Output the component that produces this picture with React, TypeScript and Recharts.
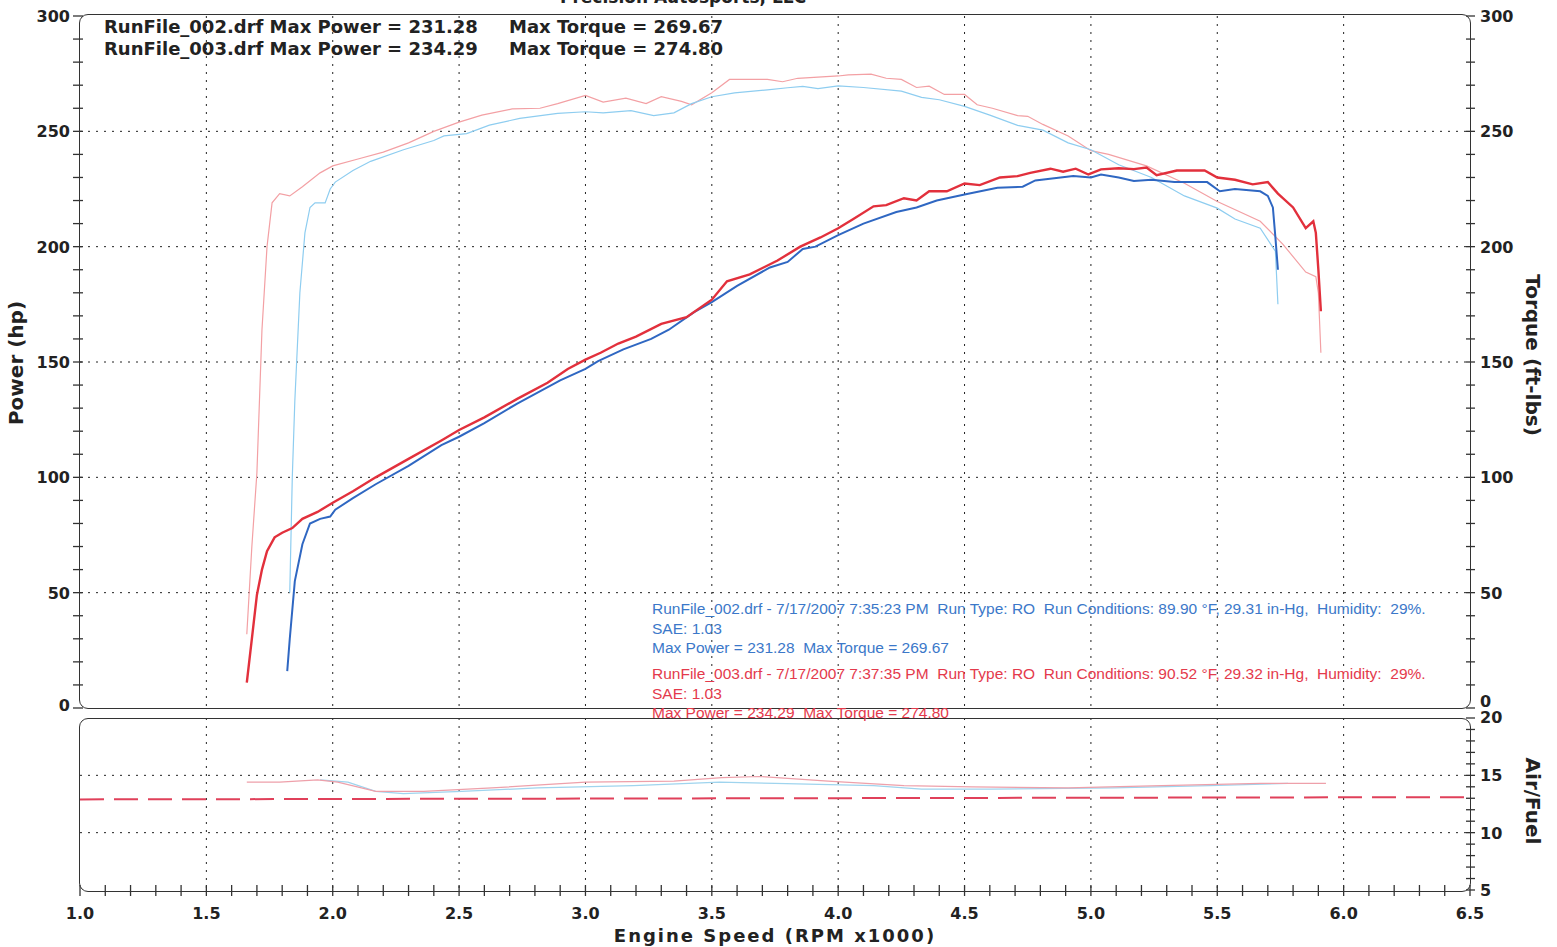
import React from "react"
import { LineChart, Line, XAxis, YAxis, CartesianGrid } from "recharts"

// dyno runs, rpm in x1000
const power002 = [
  { rpm: 1.82, v: 16 }, { rpm: 1.83, v: 30 }, { rpm: 1.85, v: 55 }, { rpm: 1.88, v: 71 },
  { rpm: 1.91, v: 80 }, { rpm: 1.95, v: 82 }, { rpm: 1.99, v: 83 }, { rpm: 2.01, v: 86 },
  { rpm: 2.08, v: 91 }, { rpm: 2.17, v: 97 }, { rpm: 2.3, v: 105 }, { rpm: 2.43, v: 114 },
  { rpm: 2.5, v: 117.6 }, { rpm: 2.6, v: 123.5 }, { rpm: 2.73, v: 132 }, { rpm: 2.9, v: 142 },
  { rpm: 3.0, v: 147 }, { rpm: 3.05, v: 150.4 }, { rpm: 3.15, v: 155.5 }, { rpm: 3.26, v: 160 },
  { rpm: 3.33, v: 164 }, { rpm: 3.43, v: 171.6 }, { rpm: 3.5, v: 176 }, { rpm: 3.6, v: 183 },
  { rpm: 3.73, v: 191 }, { rpm: 3.8, v: 193.4 }, { rpm: 3.86, v: 199 }, { rpm: 3.91, v: 200 },
  { rpm: 4.0, v: 205 }, { rpm: 4.1, v: 210 }, { rpm: 4.23, v: 215 }, { rpm: 4.31, v: 217 },
  { rpm: 4.39, v: 220 }, { rpm: 4.5, v: 222.6 }, { rpm: 4.63, v: 225.5 }, { rpm: 4.73, v: 226 },
  { rpm: 4.78, v: 228.7 }, { rpm: 4.93, v: 230.6 }, { rpm: 5.0, v: 230 }, { rpm: 5.04, v: 231.28 },
  { rpm: 5.11, v: 230 }, { rpm: 5.17, v: 228.5 }, { rpm: 5.24, v: 229 }, { rpm: 5.33, v: 228 },
  { rpm: 5.46, v: 228 }, { rpm: 5.51, v: 224 }, { rpm: 5.57, v: 225 }, { rpm: 5.67, v: 224 },
  { rpm: 5.7, v: 222 }, { rpm: 5.72, v: 217 }, { rpm: 5.73, v: 204 }, { rpm: 5.74, v: 190 },
]

const power003 = [
  { rpm: 1.66, v: 11 }, { rpm: 1.68, v: 30 }, { rpm: 1.7, v: 49 }, { rpm: 1.72, v: 60 },
  { rpm: 1.74, v: 68 }, { rpm: 1.77, v: 74 }, { rpm: 1.8, v: 76 }, { rpm: 1.84, v: 78 },
  { rpm: 1.88, v: 82 }, { rpm: 1.94, v: 85 }, { rpm: 2.0, v: 89 }, { rpm: 2.08, v: 94 },
  { rpm: 2.17, v: 100 }, { rpm: 2.3, v: 108 }, { rpm: 2.43, v: 116 }, { rpm: 2.5, v: 120.5 },
  { rpm: 2.6, v: 126 }, { rpm: 2.73, v: 134 }, { rpm: 2.85, v: 141 }, { rpm: 2.93, v: 147 },
  { rpm: 3.0, v: 151 }, { rpm: 3.06, v: 154 }, { rpm: 3.13, v: 158 }, { rpm: 3.2, v: 161 },
  { rpm: 3.3, v: 166.5 }, { rpm: 3.4, v: 169.4 }, { rpm: 3.5, v: 177 }, { rpm: 3.56, v: 185 },
  { rpm: 3.65, v: 188 }, { rpm: 3.76, v: 194 }, { rpm: 3.85, v: 200 }, { rpm: 3.93, v: 204 },
  { rpm: 4.0, v: 208 }, { rpm: 4.06, v: 212 }, { rpm: 4.14, v: 217.5 }, { rpm: 4.19, v: 218 },
  { rpm: 4.26, v: 221 }, { rpm: 4.31, v: 220 }, { rpm: 4.36, v: 224 }, { rpm: 4.43, v: 224 },
  { rpm: 4.5, v: 227.4 }, { rpm: 4.56, v: 226.7 }, { rpm: 4.64, v: 230 }, { rpm: 4.71, v: 230.6 },
  { rpm: 4.76, v: 232 }, { rpm: 4.84, v: 233.8 }, { rpm: 4.89, v: 232.5 }, { rpm: 4.94, v: 233.8 },
  { rpm: 4.99, v: 231.3 }, { rpm: 5.04, v: 233.5 }, { rpm: 5.11, v: 234 }, { rpm: 5.17, v: 233.6 },
  { rpm: 5.22, v: 234.29 }, { rpm: 5.26, v: 231 }, { rpm: 5.34, v: 233 }, { rpm: 5.45, v: 233 },
  { rpm: 5.5, v: 230 }, { rpm: 5.57, v: 229 }, { rpm: 5.64, v: 227 }, { rpm: 5.7, v: 228 },
  { rpm: 5.74, v: 223 }, { rpm: 5.8, v: 217 }, { rpm: 5.85, v: 208 }, { rpm: 5.88, v: 211 },
  { rpm: 5.89, v: 206 }, { rpm: 5.9, v: 190 }, { rpm: 5.91, v: 172 },
]

const torque002 = [
  { rpm: 1.83, v: 50 }, { rpm: 1.84, v: 100 }, { rpm: 1.85, v: 133 }, { rpm: 1.87, v: 180 },
  { rpm: 1.89, v: 206 }, { rpm: 1.91, v: 217 }, { rpm: 1.93, v: 219 }, { rpm: 1.97, v: 219 },
  { rpm: 1.99, v: 225 }, { rpm: 2.01, v: 228 }, { rpm: 2.08, v: 233 }, { rpm: 2.15, v: 237 },
  { rpm: 2.28, v: 242 }, { rpm: 2.4, v: 246 }, { rpm: 2.44, v: 248 }, { rpm: 2.53, v: 249 },
  { rpm: 2.62, v: 252.7 }, { rpm: 2.74, v: 255.6 }, { rpm: 2.89, v: 257.8 }, { rpm: 3.0, v: 258.5 },
  { rpm: 3.07, v: 258 }, { rpm: 3.18, v: 259 }, { rpm: 3.27, v: 256.8 }, { rpm: 3.35, v: 258 },
  { rpm: 3.42, v: 262 }, { rpm: 3.5, v: 265 }, { rpm: 3.59, v: 266.7 }, { rpm: 3.72, v: 268 },
  { rpm: 3.8, v: 268.9 }, { rpm: 3.86, v: 269.5 }, { rpm: 3.92, v: 268.5 }, { rpm: 4.0, v: 269.67 },
  { rpm: 4.1, v: 269 }, { rpm: 4.25, v: 267.4 }, { rpm: 4.33, v: 264.7 }, { rpm: 4.4, v: 263.7 },
  { rpm: 4.5, v: 260.8 }, { rpm: 4.6, v: 257 }, { rpm: 4.71, v: 252.6 }, { rpm: 4.81, v: 250.5 },
  { rpm: 4.91, v: 245 }, { rpm: 5.0, v: 242 }, { rpm: 5.11, v: 235.5 }, { rpm: 5.24, v: 230 },
  { rpm: 5.37, v: 222 }, { rpm: 5.5, v: 216.7 }, { rpm: 5.57, v: 212 }, { rpm: 5.67, v: 208 },
  { rpm: 5.73, v: 198 }, { rpm: 5.74, v: 175 },
]

const torque003 = [
  { rpm: 1.66, v: 32 }, { rpm: 1.68, v: 70 }, { rpm: 1.7, v: 102 }, { rpm: 1.72, v: 164 },
  { rpm: 1.74, v: 200 }, { rpm: 1.76, v: 219 }, { rpm: 1.79, v: 223 }, { rpm: 1.83, v: 222 },
  { rpm: 1.88, v: 226 }, { rpm: 1.95, v: 232 }, { rpm: 2.0, v: 235 }, { rpm: 2.1, v: 238 },
  { rpm: 2.2, v: 241 }, { rpm: 2.3, v: 245 }, { rpm: 2.4, v: 250 }, { rpm: 2.5, v: 254 },
  { rpm: 2.59, v: 257 }, { rpm: 2.71, v: 259.7 }, { rpm: 2.82, v: 260 }, { rpm: 2.89, v: 262 },
  { rpm: 3.0, v: 265.6 }, { rpm: 3.07, v: 262.7 }, { rpm: 3.16, v: 264.4 }, { rpm: 3.24, v: 262 },
  { rpm: 3.3, v: 265 }, { rpm: 3.38, v: 263 }, { rpm: 3.42, v: 261.5 }, { rpm: 3.5, v: 266.7 },
  { rpm: 3.57, v: 272.5 }, { rpm: 3.72, v: 272.5 }, { rpm: 3.78, v: 271.5 }, { rpm: 3.84, v: 273 },
  { rpm: 4.0, v: 274 }, { rpm: 4.04, v: 274.5 }, { rpm: 4.13, v: 274.8 }, { rpm: 4.19, v: 273 },
  { rpm: 4.25, v: 272.5 }, { rpm: 4.31, v: 269 }, { rpm: 4.36, v: 269.6 }, { rpm: 4.42, v: 266 },
  { rpm: 4.5, v: 266 }, { rpm: 4.55, v: 261.5 }, { rpm: 4.61, v: 260 }, { rpm: 4.71, v: 256.8 },
  { rpm: 4.75, v: 256.5 }, { rpm: 4.81, v: 253 }, { rpm: 4.91, v: 248 }, { rpm: 5.0, v: 241.6 },
  { rpm: 5.07, v: 240 }, { rpm: 5.22, v: 235 }, { rpm: 5.37, v: 227.5 }, { rpm: 5.5, v: 219.6 },
  { rpm: 5.67, v: 211 }, { rpm: 5.76, v: 201 }, { rpm: 5.85, v: 189 }, { rpm: 5.89, v: 187 },
  { rpm: 5.9, v: 180 }, { rpm: 5.91, v: 154 },
]

const afr002 = [
  { rpm: 1.95, v: 14.6 }, { rpm: 2.06, v: 14.4 }, { rpm: 2.17, v: 13.6 }, { rpm: 2.28, v: 13.4 },
  { rpm: 2.51, v: 13.6 }, { rpm: 2.81, v: 13.9 }, { rpm: 3.19, v: 14.1 }, { rpm: 3.53, v: 14.4 },
  { rpm: 3.75, v: 14.3 }, { rpm: 4.14, v: 14.1 }, { rpm: 4.33, v: 13.8 }, { rpm: 4.6, v: 13.8 },
  { rpm: 5.09, v: 13.9 }, { rpm: 5.47, v: 14.1 }, { rpm: 5.78, v: 14.3 },
]

const afr003 = [
  { rpm: 1.66, v: 14.4 }, { rpm: 1.79, v: 14.4 }, { rpm: 1.94, v: 14.6 }, { rpm: 2.02, v: 14.4 },
  { rpm: 2.17, v: 13.6 }, { rpm: 2.36, v: 13.6 }, { rpm: 2.63, v: 13.9 }, { rpm: 3.0, v: 14.4 },
  { rpm: 3.35, v: 14.5 }, { rpm: 3.54, v: 14.8 }, { rpm: 3.69, v: 14.9 }, { rpm: 3.96, v: 14.5 },
  { rpm: 4.26, v: 14.1 }, { rpm: 4.53, v: 14.0 }, { rpm: 4.91, v: 13.9 }, { rpm: 5.28, v: 14.1 },
  { rpm: 5.67, v: 14.3 }, { rpm: 5.93, v: 14.3 },
]

const afrTarget = [{ rpm: 1.0, v: 12.9 }, { rpm: 6.5, v: 13.1 }]

const rpmGrid = [1.5, 2, 2.5, 3, 3.5, 4, 4.5, 5, 5.5, 6]
const rpmTicks = Array.from({ length: 56 }, (_, i) => Math.round((1 + i * 0.1) * 10) / 10)
const powerTicks = Array.from({ length: 31 }, (_, i) => i * 10)
const powerGrid = [50, 100, 150, 200, 250]
const afrTicks = Array.from({ length: 16 }, (_, i) => 5 + i)
const afrGrid = [10, 15]

const bold = { fontFamily: "DejaVu Sans", fontWeight: 700, fill: "#222" }
const tickStroke = "#333"

const LeftTick = ({ x, y, payload }: any) => (
  <g>
    <line x1={x - 7} x2={x + 3} y1={y} y2={y} stroke={tickStroke} strokeWidth={1.3} />
    {payload.value % 50 === 0 && (
      <text x={x - 10} y={y} dy={payload.value === 0 ? 3 : 6} textAnchor="end" fontSize={16} {...bold}>
        {payload.value}
      </text>
    )}
  </g>
)

const RightTick = ({ x, y, payload }: any) => (
  <g>
    <line x1={x - 4} x2={x + 5} y1={y} y2={y} stroke={tickStroke} strokeWidth={1.3} />
    {payload.value % 50 === 0 && (
      <text x={x + 10} y={y} dy={payload.value === 0 ? -1 : 6} textAnchor="start" fontSize={16} {...bold}>
        {payload.value}
      </text>
    )}
  </g>
)

const AfrTick = ({ x, y, payload }: any) => (
  <g>
    <line x1={x - 4} x2={x + 5} y1={y} y2={y} stroke={tickStroke} strokeWidth={1.3} />
    {payload.value % 5 === 0 && (
      <text x={x + 10} y={y} dy={payload.value === 20 ? 5 : 6} textAnchor="start" fontSize={16} {...bold}>
        {payload.value}
      </text>
    )}
  </g>
)

const RpmTick = ({ x, y, payload }: any) => {
  const v = payload.value
  const major = Math.abs(v * 2 - Math.round(v * 2)) < 1e-6
  return (
    <g>
      <line x1={x} x2={x} y1={y - 5} y2={y + 6} stroke={tickStroke} strokeWidth={1.3} />
      {major && (
        <text x={x} y={y + 29} textAnchor="middle" fontSize={16} {...bold}>
          {v.toFixed(1)}
        </text>
      )}
    </g>
  )
}

const blueInfo = "#3b78c9"
const redInfo = "#e43a4c"

export default function App() {
  const frame = {
    position: "absolute" as const,
    border: "1.6px solid #333",
    borderRadius: 9,
    boxSizing: "border-box" as const,
    pointerEvents: "none" as const,
  }
  const info = {
    position: "absolute" as const,
    fontFamily: "Liberation Sans",
    fontSize: 15.5,
    lineHeight: "19.5px",
    whiteSpace: "pre" as const,
  }
  return (
    <div style={{ position: "absolute", left: 0, top: 0, width: 1557, height: 947, background: "#fff", overflow: "hidden" }}>
      <div style={{ position: "absolute", left: 0, top: 0 }}>
        <LineChart width={1557} height={724} margin={{ top: 16, right: 0, bottom: 16, left: 0 }}>
          <CartesianGrid
            stroke="#222"
            strokeDasharray="2 6"
            verticalValues={rpmGrid}
            horizontalValues={powerGrid}
          />
          <XAxis type="number" dataKey="rpm" domain={[1, 6.5]} allowDataOverflow hide />
          <YAxis
            domain={[0, 300]}
            ticks={powerTicks}
            interval={0}
            width={80}
            tickSize={0}
            tickMargin={0}
            axisLine={false}
            tickLine={false}
            tick={<LeftTick />}
          />
          <YAxis
            yAxisId="torque"
            orientation="right"
            domain={[0, 300]}
            ticks={powerTicks}
            interval={0}
            width={87}
            tickSize={0}
            tickMargin={0}
            axisLine={false}
            tickLine={false}
            tick={<RightTick />}
          />
          <Line yAxisId="torque" data={torque003} dataKey="v" stroke="#f3a0a4" strokeWidth={1.2} dot={false} isAnimationActive={false} />
          <Line yAxisId="torque" data={torque002} dataKey="v" stroke="#8ecdf0" strokeWidth={1.2} dot={false} isAnimationActive={false} />
          <Line data={power002} dataKey="v" stroke="#2f67c2" strokeWidth={2} dot={false} isAnimationActive={false} />
          <Line data={power003} dataKey="v" stroke="#e2303c" strokeWidth={2.4} dot={false} isAnimationActive={false} />
        </LineChart>
      </div>
      <div style={{ position: "absolute", left: 0, top: 700 }}>
        <LineChart width={1557} height={247} margin={{ top: 18, right: 0, bottom: 0, left: 80 }}>
          <CartesianGrid
            stroke="#222"
            strokeDasharray="2 6"
            verticalValues={rpmGrid}
            horizontalValues={afrGrid}
          />
          <XAxis
            type="number"
            dataKey="rpm"
            domain={[1, 6.5]}
            ticks={rpmTicks}
            interval={0}
            height={57}
            tickSize={0}
            tickMargin={0}
            axisLine={false}
            tickLine={false}
            tick={<RpmTick />}
            allowDataOverflow
          />
          <YAxis
            orientation="right"
            domain={[5, 20]}
            ticks={afrTicks}
            interval={0}
            width={87}
            tickSize={0}
            tickMargin={0}
            axisLine={false}
            tickLine={false}
            tick={<AfrTick />}
          />
          <Line data={afrTarget} dataKey="v" stroke="#e0405a" strokeWidth={2} strokeDasharray="24 10" dot={false} isAnimationActive={false} />
          <Line data={afr002} dataKey="v" stroke="#9fd4ee" strokeWidth={1.2} dot={false} isAnimationActive={false} />
          <Line data={afr003} dataKey="v" stroke="#eea0aa" strokeWidth={1.2} dot={false} isAnimationActive={false} />
        </LineChart>
      </div>

      <div style={{ ...frame, left: 79, top: 14, width: 1392, height: 695 }} />
      <div style={{ ...frame, left: 79, top: 718, width: 1392, height: 174 }} />

      <svg width={1557} height={947} style={{ position: "absolute", left: 0, top: 0, pointerEvents: "none" }}>
        <text x={560} y={3} fontSize={17} {...bold}>Precision Autosports, LLC</text>
        <text x={104} y={33} fontSize={18} {...bold}>RunFile_002.drf Max Power = 231.28</text>
        <text x={509} y={33} fontSize={18} {...bold}>Max Torque = 269.67</text>
        <text x={104} y={55} fontSize={18} {...bold}>RunFile_003.drf Max Power = 234.29</text>
        <text x={509} y={55} fontSize={18} {...bold}>Max Torque = 274.80</text>
        <text transform="translate(23,363) rotate(-90)" textAnchor="middle" fontSize={20} {...bold}>Power (hp)</text>
        <text transform="translate(1526,355) rotate(90)" textAnchor="middle" fontSize={20} {...bold}>Torque (ft-lbs)</text>
        <text transform="translate(1526,801) rotate(90)" textAnchor="middle" fontSize={20} {...bold}>Air/Fuel</text>
        <text x={775} y={942} textAnchor="middle" fontSize={18} letterSpacing={2} {...bold}>Engine Speed (RPM x1000)</text>
      </svg>

      <div style={{ ...info, left: 652, top: 599, color: blueInfo }}>
        {"RunFile_002.drf - 7/17/2007 7:35:23 PM  Run Type: RO  Run Conditions: 89.90 °F, 29.31 in-Hg,  Humidity:  29%.\nSAE: 1.03\nMax Power = 231.28  Max Torque = 269.67"}
      </div>
      <div style={{ ...info, left: 652, top: 664, color: redInfo }}>
        {"RunFile_003.drf - 7/17/2007 7:37:35 PM  Run Type: RO  Run Conditions: 90.52 °F, 29.32 in-Hg,  Humidity:  29%.\nSAE: 1.03\nMax Power = 234.29  Max Torque = 274.80"}
      </div>
    </div>
  )
}
